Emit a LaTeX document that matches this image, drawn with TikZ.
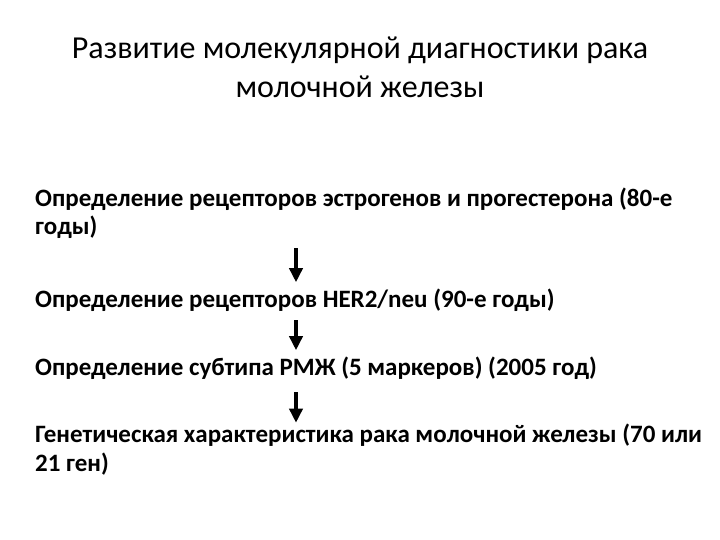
\documentclass[tikz,border=0pt]{standalone}
\usepackage{fontspec}
\setmainfont{Carlito}
\usetikzlibrary{arrows.meta}
\begin{document}
\begin{tikzpicture}[x=1pt,y=-1pt,
  titlestyle/.style={font=\fontsize{32}{39}\selectfont, align=center, inner sep=0pt, anchor=base},
  itemstyle/.style={font=\bfseries\fontsize{25}{28.5}\selectfont, align=left, inner sep=0pt, anchor=base west},
  arr/.style={line width=4pt, -{Triangle[width=13pt,length=14pt]}}]
\useasboundingbox (0,0) rectangle (720,540);
\fill[white] (0,0) rectangle (720,540);
\node[titlestyle] (title) at (360,98) {Развитие молекулярной диагностики рака\\молочной железы};
\node[itemstyle] (i1) at (35,235) {Определение рецепторов эстрогенов и прогестерона (80-е\\годы)};
\node[itemstyle] (i2) at (35,307) {Определение рецепторов HER2/neu (90-е годы)};
\node[itemstyle] (i3) at (35,375) {Определение субтипа РМЖ (5 маркеров) (2005 год)};
\node[itemstyle] (i4) at (35,471) {Генетическая характеристика рака молочной железы (70 или\\21 ген)};
\coordinate (ax) at (296,0);
\draw[arr] ([yshift=-9]i1.south -| ax) -- ([yshift=6]i2.north -| ax);
\draw[arr] ([yshift=-9]i2.south -| ax) -- ([yshift=6]i3.north -| ax);
\draw[arr] ([yshift=-13]i3.south -| ax) -- ([yshift=1]i4.north -| ax);
\end{tikzpicture}
\end{document}
